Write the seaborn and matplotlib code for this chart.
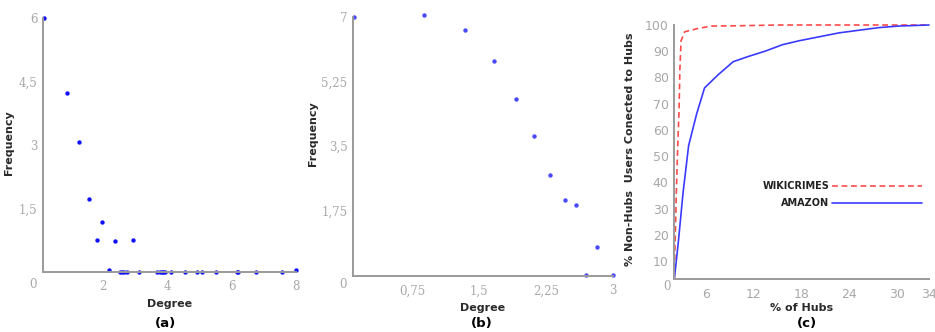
import numpy as np
import pandas as pd
import seaborn as sns
from matplotlib import pyplot as plt

# Données
# (a) distribution des degrés - réseau 1
degre_a = [0.16, 0.87, 1.26, 1.55, 1.81, 1.96, 2.38, 2.92, 2.17, 2.52, 2.59, 2.66, 2.73,
           3.13, 3.69, 3.76, 3.83, 3.87, 3.93, 4.10, 4.56, 4.91, 5.08, 5.51, 6.16, 6.20,
           6.77, 7.57, 8.0]
freq_a = [6.0, 4.24, 3.08, 1.72, 0.76, 1.18, 0.74, 0.76, 0.04, 0.01, 0.01, 0.01, 0.01,
          0.01, 0.01, 0.01, 0.01, 0.01, 0.01, 0.01, 0.01, 0.01, 0.01, 0.01, 0.01, 0.01,
          0.01, 0.01, 0.04]

# (b) distribution des degrés - réseau 2
degre_b = [0.10, 0.88, 1.34, 1.67, 1.91, 2.12, 2.30, 2.46, 2.59, 2.70, 2.82, 3.0]
freq_b = [7.0, 7.05, 6.64, 5.81, 4.77, 3.78, 2.73, 2.04, 1.92, 0.03, 0.77, 0.03]

# (c) % de non-hubs connectés aux hubs
hubs_wiki = [2.0, 2.1, 2.25, 2.4, 2.6, 2.7, 2.85, 3.3, 5.0, 6.7, 10, 15, 20, 25, 30, 34]
pct_wiki = [3, 17, 35, 51, 68, 83, 94, 97.4, 98.7, 99.6, 99.7, 100, 100, 100, 100, 100]
hubs_amazon = [2.0, 2.5, 3.1, 3.8, 4.8, 5.8, 7.5, 9.4, 11.3, 13.4, 15.6, 17.7, 20.2, 22.7,
               25.2, 27.7, 30.2, 34]
pct_amazon = [3, 17, 36, 54, 66, 76, 81, 86, 88, 90, 92.5, 94, 95.5, 97, 98, 99, 99.6, 100]

# Étiquettes des axes
ticks_a_x, labels_a_x = [2, 4, 6, 8], ["2", "4", "6", "8"]
ticks_a_y, labels_a_y = [1.5, 3, 4.5, 6], ["1,5", "3", "4,5", "6"]
ticks_b_x, labels_b_x = [0.75, 1.5, 2.25, 3], ["0,75", "1,5", "2,25", "3"]
ticks_b_y, labels_b_y = [1.75, 3.5, 5.25, 7], ["1,75", "3,5", "5,25", "7"]
ticks_c_x = [6, 12, 18, 24, 30, 34]
ticks_c_y = [10, 20, 30, 40, 50, 60, 70, 80, 90, 100]

sns.set_style("white")
plt.rcParams['font.family'] = ['DejaVu Sans']

W, H = 935, 332
fig = plt.figure(figsize=(W / 100, H / 100), dpi=100)


def add_axes(left, right, top, bottom):
    return fig.add_axes([left / W, 1 - bottom / H, (right - left) / W, (bottom - top) / H])


def style_axes(ax, tick_font):
    sns.despine(ax=ax)
    for s in ["left", "bottom"]:
        ax.spines[s].set_color("#9a9a9a")
        ax.spines[s].set_linewidth(1.4)
    ax.tick_params(length=0, colors="#a8a8a8", labelsize=8.5)
    ax.tick_params(axis="x", pad=6)
    ax.tick_params(axis="y", pad=4)
    for lab in ax.get_xticklabels() + ax.get_yticklabels():
        lab.set_family(tick_font)


lab_kw = dict(fontsize=8, fontweight="bold", color="#2a2a2a")

# Panneau (a)
ax_a = add_axes(43, 296, 18, 272)
sns.scatterplot(x=degre_a, y=freq_a, ax=ax_a, color="#1010ff", s=10, linewidth=0, clip_on=False)
ax_a.set_xlim(0.13, 8)
ax_a.set_ylim(0, 6)
ax_a.set_xticks(ticks_a_x, labels_a_x)
ax_a.set_yticks(ticks_a_y, labels_a_y)
style_axes(ax_a, "DejaVu Serif")
ax_a.set_xlabel("Degree", labelpad=4, **lab_kw)
ax_a.set_ylabel("Frequency", **lab_kw)
ax_a.yaxis.set_label_coords(-0.115, 0.508)

# Panneau (b)
ax_b = add_axes(353, 613, 16.5, 276)
sns.scatterplot(x=degre_b, y=freq_b, ax=ax_b, color="#4848ff", s=10, linewidth=0, clip_on=False)
ax_b.set_xlim(0.09, 3)
ax_b.set_ylim(0, 7)
ax_b.set_xticks(ticks_b_x, labels_b_x)
ax_b.set_yticks(ticks_b_y, labels_b_y)
style_axes(ax_b, "DejaVu Serif")
ax_b.set_xlabel("Degree", labelpad=4, **lab_kw)
ax_b.set_ylabel("Frequency", **lab_kw)
ax_b.yaxis.set_label_coords(-0.135, 0.55)

# Panneau (c)
ax_c = add_axes(674.3, 929, 25, 279.3)
sns.lineplot(x=hubs_wiki, y=pct_wiki, ax=ax_c, color="#ff2a2a", alpha=0.85, linewidth=1.2,
             linestyle=(0, (3.5, 2.2)), label="WIKICRIMES", clip_on=False)
sns.lineplot(x=hubs_amazon, y=pct_amazon, ax=ax_c, color="#3a3aff", linewidth=1.2,
             label="AMAZON", clip_on=False)
ax_c.set_xlim(2, 34)
ax_c.set_ylim(3, 100)
ax_c.set_xticks(ticks_c_x, [str(t) for t in ticks_c_x])
ax_c.set_yticks(ticks_c_y, [str(t) for t in ticks_c_y])
style_axes(ax_c, "DejaVu Sans")
ax_c.tick_params(labelsize=9)
ax_c.set_xlabel("% of Hubs", labelpad=2, **lab_kw)
ax_c.set_ylabel("% Non-Hubs  Users Conected to Hubs", **lab_kw)
ax_c.yaxis.set_label_coords(-0.154, 0.51)
leg = ax_c.legend(loc="center right", bbox_to_anchor=(0.99, 0.333), frameon=False,
                  markerfirst=False, handlelength=9.2, handletextpad=0.3,
                  labelspacing=0.75, borderpad=0,
                  prop=dict(size=7, weight="bold"))
for t in leg.get_texts():
    t.set_color("#222222")

# Étiquette "0" dans le coin de chaque panneau
for px, py in [(33, 284), (343, 284), (667, 287)]:
    fig.text(px / W, 1 - py / H, "0", ha="center", va="center", color="#a8a8a8",
             fontsize=8.5, family="DejaVu Serif")

# Légendes sous les panneaux
for px, txt in [(165, "(a)"), (482, "(b)"), (807, "(c)")]:
    fig.text(px / W, 1 - 323 / H, txt, ha="center", va="center", fontsize=9.5,
             fontweight="bold", color="black")

plt.savefig("out.png", dpi=100)
